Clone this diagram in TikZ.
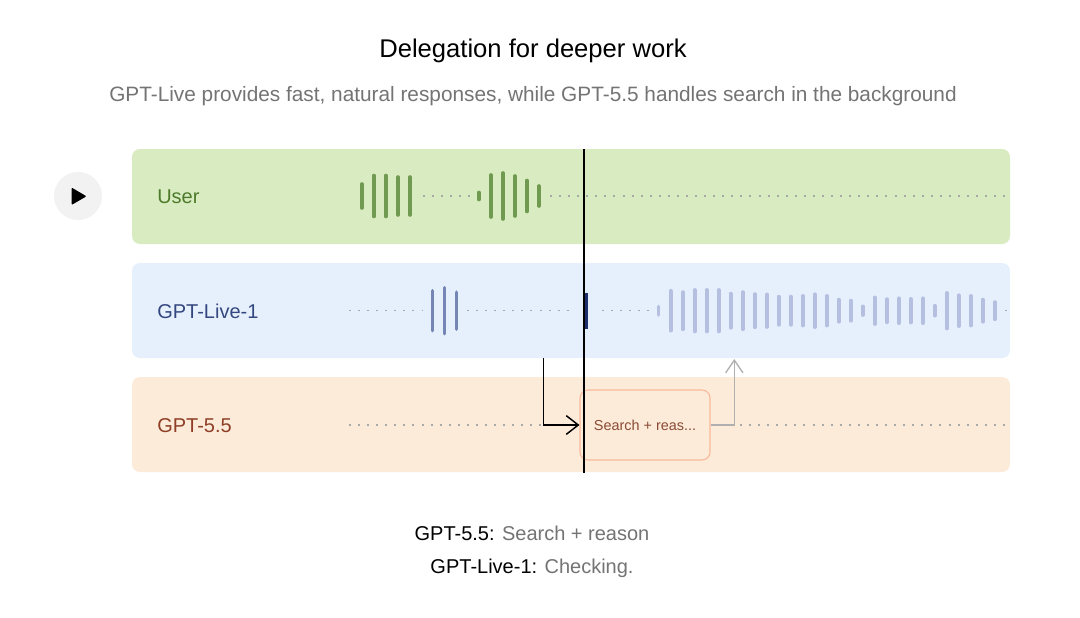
\documentclass[tikz,border=0pt]{standalone}
\usepackage{fontspec}
\setmainfont{Liberation Sans}
\usepackage{xcolor}
\usetikzlibrary{arrows.meta,positioning}

\definecolor{userfill}{HTML}{D9ECC1}
\definecolor{userbar}{HTML}{6F9A4F}
\definecolor{usertext}{HTML}{4D7A2A}
\definecolor{livefill}{HTML}{E6F0FD}
\definecolor{livebar}{HTML}{7585B6}
\definecolor{livedark}{HTML}{1E2D6B}
\definecolor{livelight}{HTML}{B5C0E0}
\definecolor{livetext}{HTML}{34467F}
\definecolor{gptfill}{HTML}{FDEBDA}
\definecolor{gpttext}{HTML}{8E3F26}
\definecolor{boxline}{HTML}{F7B79A}
\definecolor{boxtext}{HTML}{8A4A33}
\definecolor{dotgray}{HTML}{A8A8A8}
\definecolor{subgray}{HTML}{747474}
\definecolor{playfill}{HTML}{F2F2F2}
\definecolor{backarrow}{HTML}{B0B0B0}

\begin{document}
\begin{tikzpicture}[x=0.75pt,y=-0.75pt,
    band/.style={rounded corners=6pt},
    dots/.style={draw=dotgray,line width=0.8pt,dash pattern=on 1.5pt off 5.3pt},
    bar/.style={line width=2.7pt,line cap=round},
    lbl/.style={anchor=west,inner sep=0pt,font=\fontsize{15}{18}\selectfont}]
    \useasboundingbox[fill=white] (0,0) rectangle (1080,617);

    % heading
    \node[font=\fontsize{19.2}{23}\selectfont] (title) at (533,50.5) {Delegation for deeper work};
    \node[font=\fontsize{15.6}{19}\selectfont,text=subgray] (subtitle) at (533,96)
        {GPT-Live provides fast, natural responses, while GPT-5.5 handles search in the background};

    % play button
    \fill[playfill] (78,196) circle (24);
    \fill[rounded corners=0.8pt] (71.5,187.5) -- (86.5,196.3) -- (71.5,205) -- cycle;

    % bands
    \fill[band,userfill] (132,149) rectangle (1010,244);
    \fill[band,livefill] (132,263) rectangle (1010,358);
    \fill[band,gptfill] (132,377) rectangle (1010,472);
    \node[lbl,text=usertext] (userlabel) at (157,197) {User};
    \node[lbl,text=livetext] (livelabel) at (157,311) {GPT-Live-1};
    \node[lbl,text=gpttext] (gptlabel) at (157,426) {GPT-5.5};

    % user track
    \draw[dots] (423,196) -- (470,196);
    \draw[dots] (550,196) -- (1010,196);
    \foreach \x/\h in {361.7/24,373.7/41,385.7/41,397.7/38,409.7/38,479/7,491/42,503/46,515/40,527/31,539/20}
        \draw[bar,userbar] (\x,{196-\h/2}) -- ++(0,\h);

    % live track
    \draw[dots] (349,310.7) -- (423,310.7);
    \draw[dots] (467,310.7) -- (569,310.7);
    \draw[dots] (602,310.7) -- (650,310.7);
    \draw[dots] (1005,310.7) -- (1010,310.7);
    \foreach \x/\h in {432.3/40,444.3/46,456.3/37}
        \draw[bar,livebar] (\x,{310.7-\h/2}) -- ++(0,\h);
    \draw[line width=2.6pt,livedark] (586,292.7) -- (586,328.7);
    \draw[bar,livelight] (658.3,306.5) -- (658.3,315);
    \foreach \h [count=\k from 0] in {40,37.3,41.7,41.7,41.7,34.3,37.3,33.3,32.7,28.3,28.3,29.7,33,29.7,
            22.3,20.3,8.7,26.7,23.3,25,23.7,25,10,35.7,31,29.7,22.3,17.3}
        \draw[bar,livelight] ({670.7+12*\k},{310.7-\h/2}) -- ++(0,\h);

    % gpt-5.5 track
    \draw[dots] (349,425) -- (575,425);
    \draw[dots] (740,425) -- (1010,425);
    \node[draw=boxline,fill=gptfill,line width=0.8pt,rounded corners=6pt,
        minimum width=97.5pt,minimum height=52.5pt,inner sep=0pt,
        text=boxtext,font=\fontsize{10.8}{13}\selectfont] (search) at (645,425) {Search + reas...};

    % hand-off arrows
    \coordinate (handoff) at (543.3,358);
    \coordinate (handback) at (734.3,359);
    \draw[line width=1.1pt,-{Straight Barb[length=9pt,width=14pt]}] (handoff) |- (search.west);
    \draw[line width=1pt,backarrow,-{Straight Barb[length=9.5pt,width=13pt]}] (search.east) -| (handback);

    % playhead
    \draw[line width=1.3pt] (584,149) -- (584,472.5);

    % captions
    \node[font=\fontsize{15}{18}\selectfont,text=subgray] (caption1) at (532,533)
        {{\color{black}GPT-5.5:} Search + reason};
    \node[font=\fontsize{15}{18}\selectfont,text=subgray] (caption2) at (532,568)
        {{\color{black}GPT-Live-1:} Checking.};
\end{tikzpicture}
\end{document}
